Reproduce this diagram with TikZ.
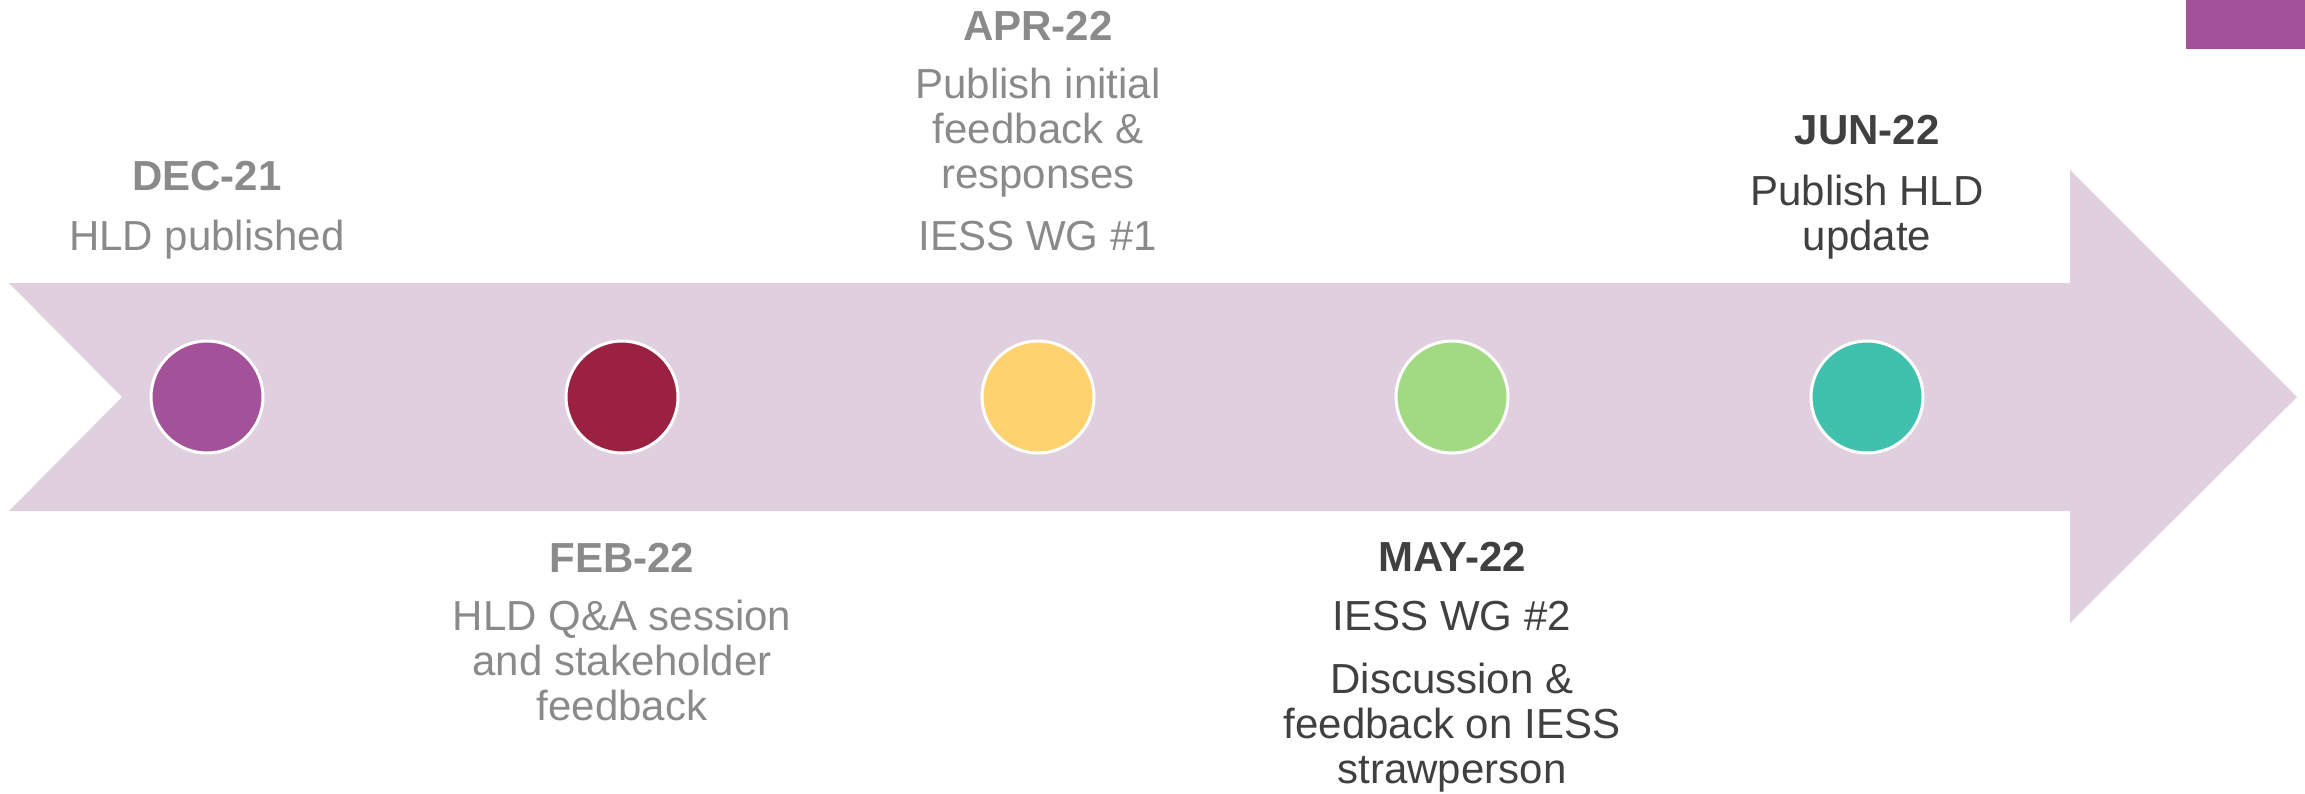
\documentclass[tikz,border=0pt]{standalone}
\usepackage{fontspec}
\setmainfont{Liberation Sans}
\definecolor{band}{HTML}{E0D0DF}
\definecolor{cpurple}{HTML}{A35199}
\definecolor{cred}{HTML}{9B2140}
\definecolor{cyellow}{HTML}{FDD26F}
\definecolor{cgreen}{HTML}{A2DA84}
\definecolor{cteal}{HTML}{40C1AD}
\definecolor{txtgray}{HTML}{8A8A8A}
\definecolor{txtdark}{HTML}{404040}
\begin{document}
\begin{tikzpicture}[x=0.5pt,y=-0.5pt,
  dot/.style={circle,draw=white,line width=1.5pt,minimum size=56pt,inner sep=0pt},
  lbl/.style={anchor=base,align=center,inner sep=0pt,font=\fontsize{21}{22.3}\selectfont},
  ttl/.style={lbl,font=\fontsize{21}{22.3}\selectfont\bfseries},
  gr/.style={text=txtgray},
  dk/.style={text=txtdark}]
\useasboundingbox (0,0) rectangle (2305,793);
\fill[cpurple] (2186,0) rectangle (2305,49);
\fill[band] (9,283) -- (2070,283) -- (2070,170) -- (2297,397) -- (2070,623) -- (2070,511) -- (9,511) -- (122,397) -- cycle;
\node[dot,fill=cpurple] (c1) at (207,397) {};
\node[dot,fill=cred] (c2) at (622,397) {};
\node[dot,fill=cyellow] (c3) at (1038,397) {};
\node[dot,fill=cgreen] (c4) at (1452,397) {};
\node[dot,fill=cteal] (c5) at (1867,397) {};
% DEC-21
\node[ttl,gr] (t1) at (207,190) {DEC-21};
\node[lbl,gr] (b1) at (207,250) {HLD published};
% FEB-22 (multi-line nodes: base = last line's baseline)
\node[ttl,gr] (t2) at (622,572) {FEB-22};
\node[lbl,gr] (b2) at (622,720) {HLD Q\&A session\\and stakeholder\\feedback};
% APR-22
\node[ttl,gr] (t3) at (1038,40) {APR-22};
\node[lbl,gr] (b3) at (1038,188) {Publish initial\\feedback \&\\responses};
\node[lbl,gr] (b3b) at (1038,250) {IESS WG \#1};
% MAY-22
\node[ttl,dk] (t4) at (1452,571) {MAY-22};
\node[lbl,dk] (b4) at (1452,630) {IESS WG \#2};
\node[lbl,dk] (b4b) at (1452,783) {Discussion \&\\feedback on IESS\\strawperson};
% JUN-22
\node[ttl,dk] (t5) at (1867,144) {JUN-22};
\node[lbl,dk] (b5) at (1867,250) {Publish HLD\\update};
\end{tikzpicture}
\end{document}
